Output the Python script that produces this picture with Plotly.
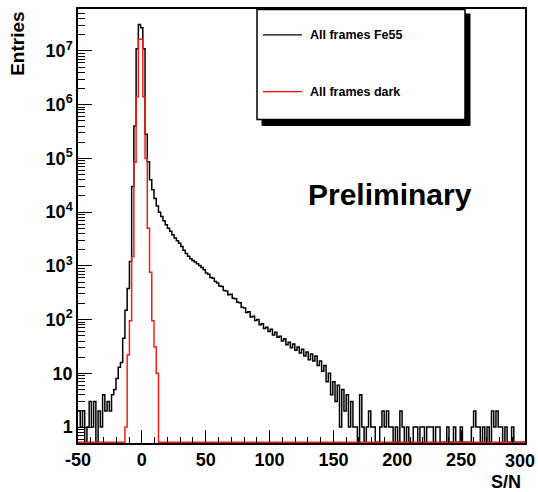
import numpy as np
import plotly.graph_objects as go

# Histogram binning: 200 bins from -50 to 300 (S/N)
x_min, x_max, n_bins = -50.0, 300.0, 200

# Entries per bin, "All frames Fe55"
fe55_counts = [
    2, 1, 2, 0, 1, 3, 1, 3, 0, 2,
    1, 4, 2, 3, 2, 4, 5, 8, 13, 16,
    45, 150, 380, 1200, 30000, 400000, 11000000, 31000000, 27000000, 11000000,
    280000, 87000, 40000, 26000, 18000, 13000, 10000, 8300, 6900, 5800,
    5000, 4400, 3800, 3300, 2950, 2630, 2290, 1950, 1700, 1510,
    1350, 1260, 1175, 1100, 1020, 930, 850, 740, 700, 610,
    590, 510, 480, 420, 415, 350, 340, 290, 295, 250,
    245, 210, 205, 170, 165, 135, 140, 112, 115, 96,
    100, 80, 84, 68, 72, 60, 66, 52, 58, 47,
    49, 40, 44, 34, 38, 30, 35, 27, 31, 24,
    28, 21, 25, 18, 23, 17, 21, 14, 17, 11,
    14, 7, 10, 4, 7, 3, 6, 1, 5, 2,
    4, 1, 3, 1, 1, 0, 4, 1, 0, 1,
    2, 1, 1, 0, 0, 1, 2, 1, 2, 1,
    1, 0, 1, 0, 2, 1, 0, 1, 0, 0,
    1, 1, 0, 1, 1, 0, 1, 1, 1, 0,
    1, 1, 0, 0, 0, 1, 0, 0, 1, 0,
    0, 1, 0, 0, 0, 0, 1, 2, 1, 1,
    0, 1, 0, 1, 0, 2, 1, 2, 1, 1,
    0, 1, 0, 0, 1, 0, 0, 0, 0, 0,
]

# Entries per bin, "All frames dark"
dark_counts = [
    0, 0, 0, 0, 0, 0, 0, 0, 0, 0,
    0, 0, 0, 0, 0, 0, 0, 0, 0, 0,
    0, 1, 22, 95, 1500, 85000, 1400000, 16500000, 16500000, 1400000,
    100000, 5000, 760, 95, 31, 10, 0, 0, 0, 0,
    0, 0, 0, 0, 0, 0, 0, 0, 0, 0,
    0, 0, 0, 0, 0, 0, 0, 0, 0, 0,
    0, 0, 0, 0, 0, 0, 0, 0, 0, 0,
    0, 0, 0, 0, 0, 0, 0, 0, 0, 0,
    0, 0, 0, 0, 0, 0, 0, 0, 0, 0,
    0, 0, 0, 0, 0, 0, 0, 0, 0, 0,
    0, 0, 0, 0, 0, 0, 0, 0, 0, 0,
    0, 0, 0, 0, 0, 0, 0, 0, 0, 0,
    0, 0, 0, 0, 0, 0, 0, 0, 0, 0,
    0, 0, 0, 0, 0, 0, 0, 0, 0, 0,
    0, 0, 0, 0, 0, 0, 0, 0, 0, 0,
    0, 0, 0, 0, 0, 0, 0, 0, 0, 0,
    0, 0, 0, 0, 0, 0, 0, 0, 0, 0,
    0, 0, 0, 0, 0, 0, 0, 0, 0, 0,
    0, 0, 0, 0, 0, 0, 0, 0, 0, 0,
    0, 0, 0, 0, 0, 0, 0, 0, 0, 0,
]

series_names = ["All frames Fe55", "All frames dark"]
x_ticks = [-50, 0, 50, 100, 150, 200, 250, 300]
x_ticktext = ["-50", "0", "50", "100", "150", "200", "250", "300"]
y_ticks = [1, 10, 100, 1e3, 1e4, 1e5, 1e6, 1e7]
y_ticktext = ["1", "10", "10<sup>2</sup>", "10<sup>3</sup>", "10<sup>4</sup>",
              "10<sup>5</sup>", "10<sup>6</sup>", "10<sup>7</sup>"]

# ---------------------------------------------------------------------------
edges = np.linspace(x_min, x_max, n_bins + 1)
y_lo, y_hi = -0.296, 7.78          # log10 axis range
floor_val = 10 ** (y_lo + 0.012)   # empty bins drawn on the frame bottom


def step_xy(counts):
    c = np.asarray(counts, dtype=float)
    c = np.where(c > 0, c, floor_val)
    xs = edges
    ys = np.append(c, c[-1])
    return xs, ys


fig = go.Figure()
for counts, name, color in [(fe55_counts, series_names[0], "black"),
                            (dark_counts, series_names[1], "#ff1a1a")]:
    xs, ys = step_xy(counts)
    fig.add_trace(go.Scatter(x=xs, y=ys, mode="lines", name=name,
                             line=dict(color=color, width=1.5, shape="hv"),
                             showlegend=False))

L, R, T, B = 78, 525, 7, 443
W, H = 538, 492


def px(xp):
    return (xp - L) / (R - L)


def py(yp):
    return (B - yp) / (B - T)


tick_font = dict(family="Liberation Sans, Arial, sans-serif", size=18,
                 color="black", weight="bold")

minor_y = []
for e in range(-1, 8):
    for d in range(2, 10):
        v = d * 10.0 ** e
        if y_lo < np.log10(v) < y_hi:
            minor_y.append(v)

fig.update_layout(
    width=W, height=H,
    margin=dict(l=L, r=W - R, t=T, b=H - B),
    paper_bgcolor="white", plot_bgcolor="white",
    xaxis=dict(range=[x_min, x_max], tickmode="array",
               tickvals=x_ticks[:-1], ticktext=x_ticktext[:-1],
               ticks="inside", ticklen=13, tickwidth=1.2, tickcolor="black",
               showline=True, linecolor="black", linewidth=1.5, mirror=True,
               showgrid=False, zeroline=False, tickfont=tick_font,
               minor=dict(tickmode="linear", tick0=-50, dtick=10,
                          ticks="inside", ticklen=6, tickwidth=1.2,
                          tickcolor="black", showgrid=False)),
    yaxis=dict(type="log", range=[y_lo, y_hi], tickmode="array",
               tickvals=y_ticks, ticktext=y_ticktext,
               ticks="inside", ticklen=14, tickwidth=1.2, tickcolor="black",
               showline=True, linecolor="black", linewidth=1.5, mirror=True,
               showgrid=False, zeroline=False, tickfont=tick_font,
               minor=dict(tickmode="array", tickvals=minor_y,
                          ticks="inside", ticklen=7, tickwidth=1.2,
                          tickcolor="black", showgrid=False)),
)

label_font = dict(family="Liberation Sans, Arial, sans-serif", color="black",
                  weight="bold")

# last x tick label at the frame edge, kept just inside the page
fig.add_annotation(text=x_ticktext[-1], xref="paper", yref="paper",
                   x=px(537), y=py(461), showarrow=False,
                   xanchor="right", yanchor="middle",
                   font=dict(size=18, **label_font))

# Axis titles
fig.add_annotation(text="Entries", xref="paper", yref="paper",
                   x=px(18), y=py(42), textangle=-90, showarrow=False,
                   xanchor="center", yanchor="middle",
                   font=dict(size=19, **label_font))
fig.add_annotation(text="S/N", xref="paper", yref="paper",
                   x=px(523), y=py(482), showarrow=False,
                   xanchor="right", yanchor="middle",
                   font=dict(size=18, **label_font))

# Preliminary
fig.add_annotation(text="Preliminary", xref="paper", yref="paper",
                   x=px(390), y=py(193), showarrow=False,
                   xanchor="center", yanchor="middle",
                   font=dict(size=30, **label_font))

# Legend box with shadow
fig.add_shape(type="rect", xref="paper", yref="paper",
              x0=px(262), x1=px(470), y0=py(124), y1=py(12),
              fillcolor="black", line=dict(color="black", width=1),
              layer="above")
fig.add_shape(type="rect", xref="paper", yref="paper",
              x0=px(257), x1=px(465), y0=py(118), y1=py(7.5),
              fillcolor="white", line=dict(color="black", width=1.5),
              layer="above")
for i, (name, color) in enumerate(zip(series_names, ["black", "red"])):
    yy = [33, 90][i]
    fig.add_shape(type="line", xref="paper", yref="paper",
                  x0=px(263), x1=px(302), y0=py(yy), y1=py(yy),
                  line=dict(color=color, width=1.2), layer="above")
    fig.add_annotation(text=name, xref="paper", yref="paper",
                       x=px(308), y=py(yy), showarrow=False,
                       xanchor="left", yanchor="middle",
                       font=dict(size=12.5, **label_font))

fig.write_html("out.html")
